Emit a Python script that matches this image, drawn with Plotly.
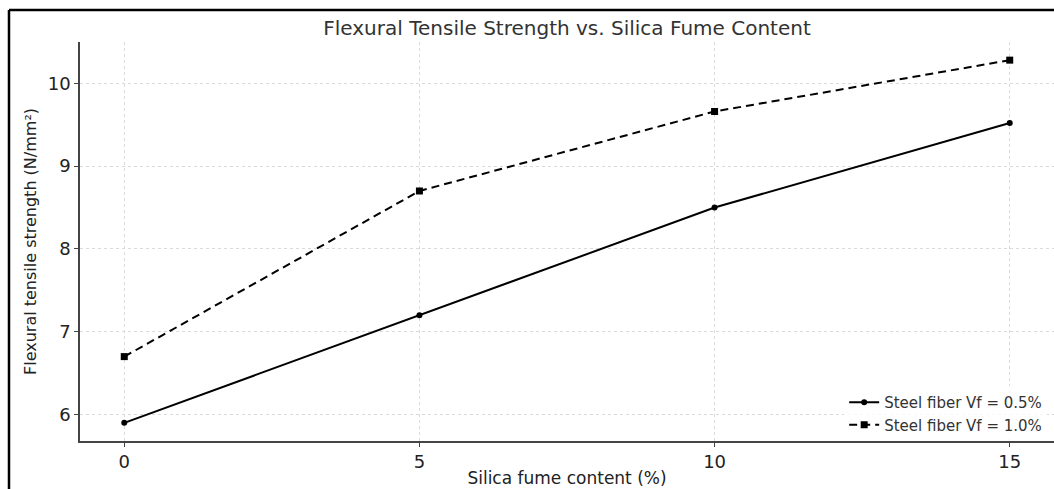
import plotly.graph_objects as go

silica = [0, 5, 10, 15]
vf_05 = [5.9, 7.2, 8.5, 9.52]
vf_10 = [6.7, 8.7, 9.66, 10.28]
names = ["Steel fiber Vf = 0.5%", "Steel fiber Vf = 1.0%"]

fig = go.Figure()
fig.add_trace(go.Scatter(x=silica, y=vf_05, mode="lines+markers", name=names[0],
                         line=dict(color="black", width=2),
                         marker=dict(symbol="circle", size=6, color="black")))
fig.add_trace(go.Scatter(x=silica, y=vf_10, mode="lines+markers", name=names[1],
                         line=dict(color="black", width=2, dash="8px,5px"),
                         marker=dict(symbol="square", size=7, color="black")))

axis_common = dict(showline=True, linecolor="#444", linewidth=1.5, ticks="outside",
                   ticklen=4, tickcolor="#444", showgrid=True, gridcolor="#dadada",
                   griddash="dot", gridwidth=1, zeroline=False, automargin=False,
                   tickfont=dict(family="DejaVu Sans", size=18, color="#222"))

fig.update_xaxes(range=[-0.75, 15.75], tickvals=[0, 5, 10, 15],
                 title=dict(text="Silica fume content (%)", standoff=1,
                            font=dict(family="DejaVu Sans", size=17, color="#222")),
                 **axis_common)
fig.update_yaxes(range=[5.681, 10.499], tickvals=[6, 7, 8, 9, 10],
                 title=dict(text="Flexural tensile strength (N/mm²)", standoff=7,
                            font=dict(family="DejaVu Sans", size=16, color="#222")),
                 **axis_common)

fig.update_layout(
    width=1054, height=489,
    margin=dict(l=80, r=0, t=42, b=48, autoexpand=False),
    paper_bgcolor="white", plot_bgcolor="white",
    title=dict(text="Flexural Tensile Strength vs. Silica Fume Content", x=0.5,
               xref="paper", y=0.943, yanchor="middle",
               font=dict(family="DejaVu Sans", size=20, color="#333")),
    legend=dict(x=0.993, y=0.0, xanchor="right", yanchor="bottom",
                bgcolor="rgba(255,255,255,0.8)", tracegroupgap=0,
                font=dict(family="DejaVu Sans", size=15, color="#333"),
                itemwidth=30),
    showlegend=True,
)

fig.add_shape(type="line", xref="paper", yref="paper", x0=-0.0729, x1=1.01,
              y0=1.0802, y1=1.0802, line=dict(color="black", width=2.5))
fig.add_shape(type="line", xref="paper", yref="paper", x0=-0.0729, x1=-0.0729,
              y0=1.0802, y1=-0.13, line=dict(color="black", width=2.5))

fig.write_html("out.html", config={"displayModeBar": False},
               post_script="document.body.style.margin='0';document.body.style.overflow='hidden';")
